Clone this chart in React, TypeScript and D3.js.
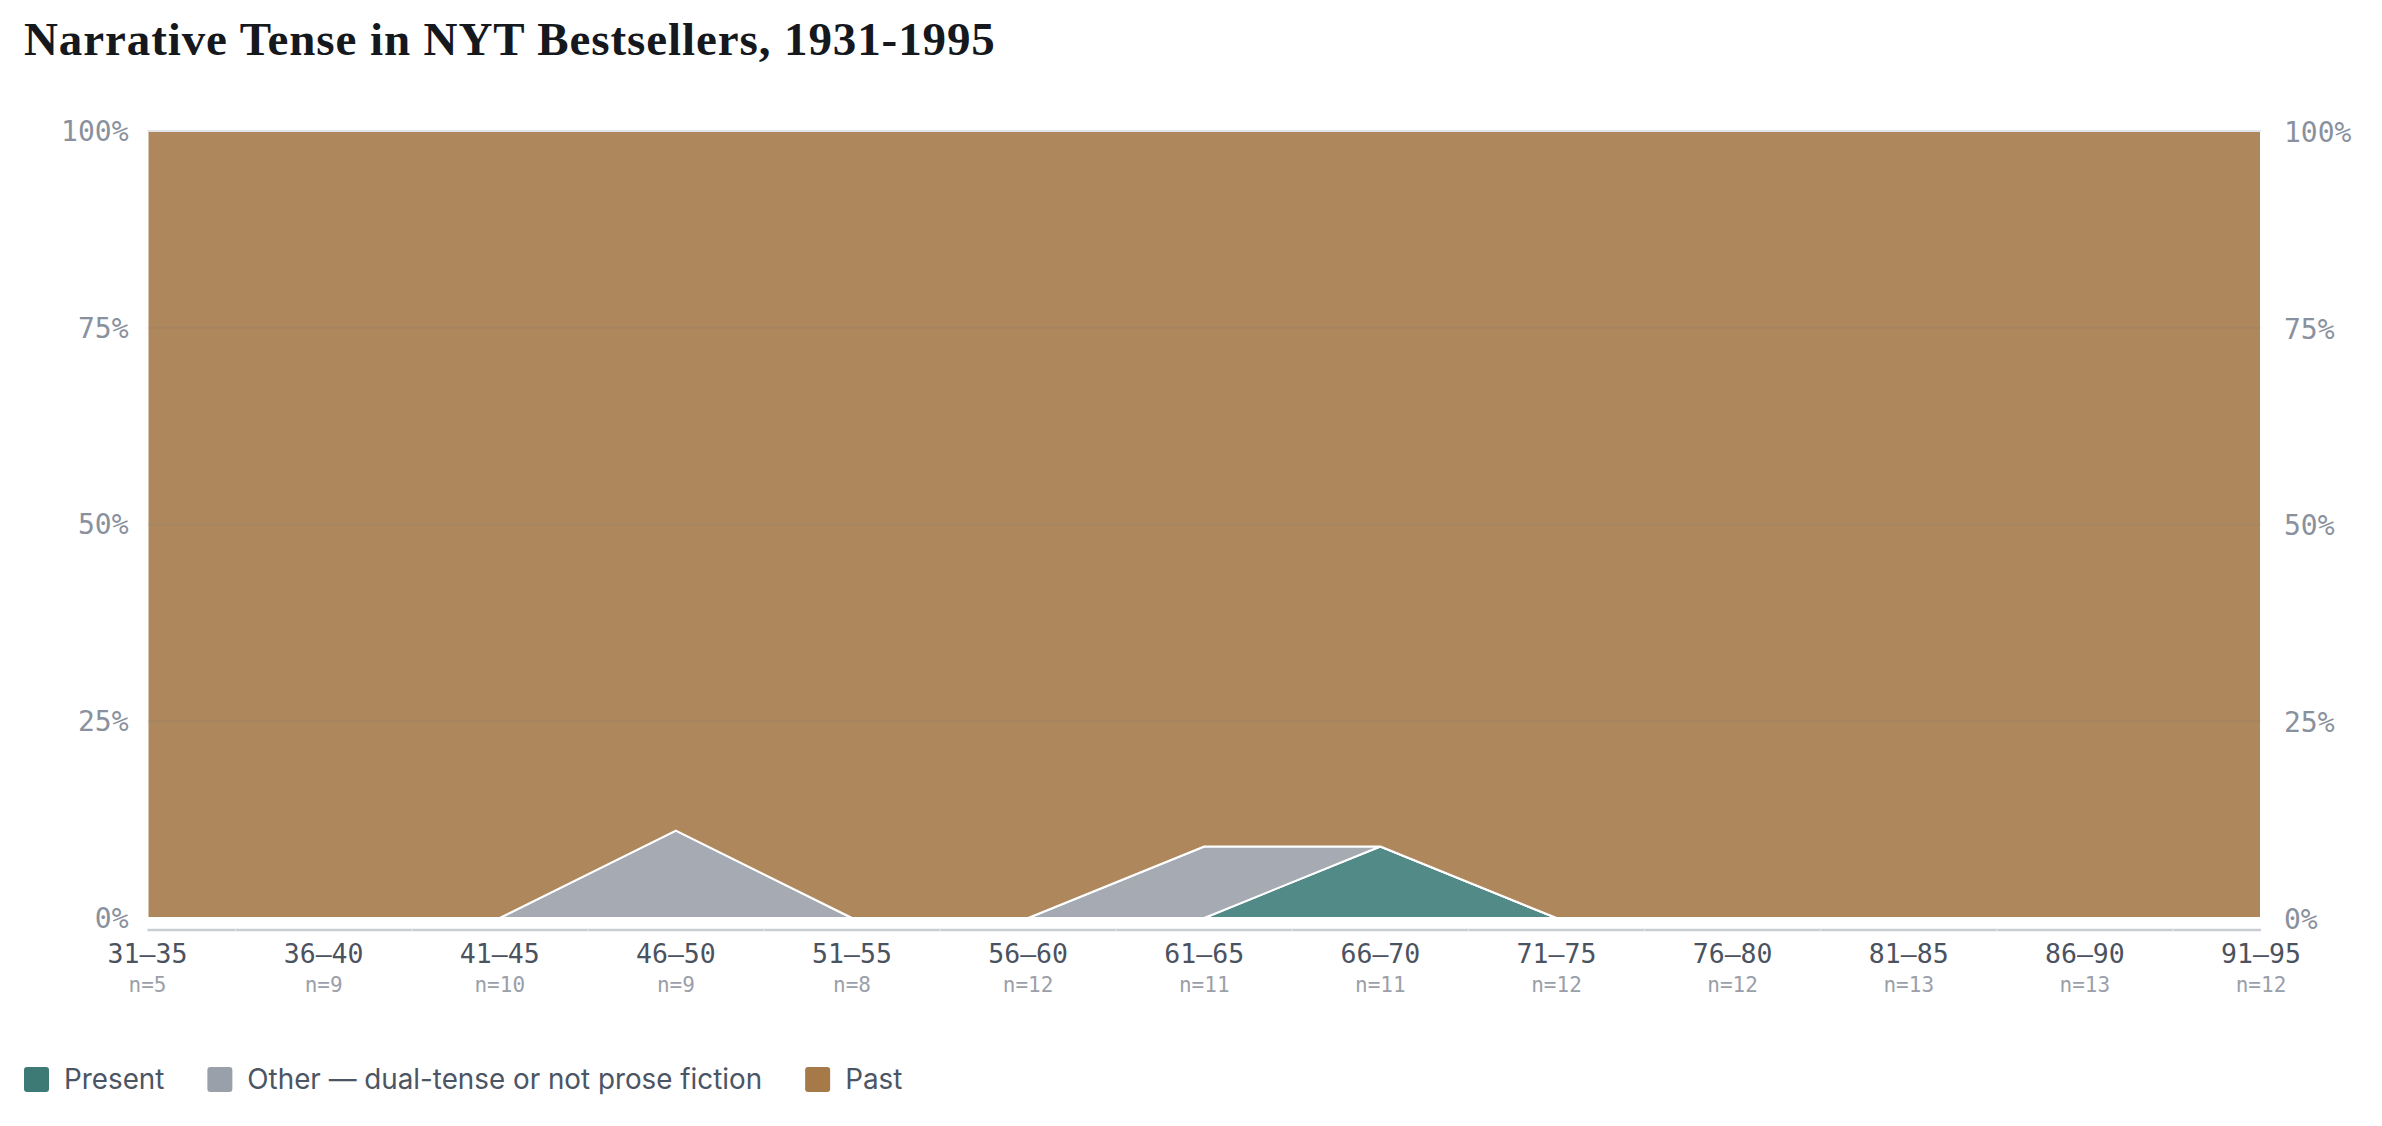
import { useEffect, useRef } from "react";
import * as d3 from "d3";

const W = 2382;
const H = 1126;

const periods = ["31–35", "36–40", "41–45", "46–50", "51–55", "56–60", "61–65", "66–70", "71–75", "76–80", "81–85", "86–90", "91–95"];
const totals = [5, 9, 10, 9, 8, 12, 11, 11, 12, 12, 13, 13, 12];
const presentCounts = [0, 0, 0, 0, 0, 0, 0, 1, 0, 0, 0, 0, 0];
const otherCounts = [0, 0, 0, 1, 0, 0, 1, 0, 0, 0, 0, 0, 0];

const yTicks = [0, 0.25, 0.5, 0.75, 1];

const seriesKeys = ["present", "other", "past"];
const seriesLabels: Record<string, string> = {
  present: "Present",
  other: "Other — dual-tense or not prose fiction",
  past: "Past",
};
const areaColors: Record<string, string> = {
  present: "#528a87",
  other: "#a6abb3",
  past: "#ae885c",
};
const swatchColors: Record<string, string> = {
  present: "#3d7a76",
  other: "#9aa0a9",
  past: "#a67a48",
};

const MONO = "'DejaVu Sans Mono', monospace";
const SANS = "Inter, 'Noto Sans', sans-serif";

export default function App() {
  const svgRef = useRef<SVGSVGElement>(null);

  useEffect(() => {
    document.body.style.margin = "0";
    const svg = d3.select(svgRef.current!);
    svg.selectAll("*").remove();

    const margin = { top: 131, right: 121, bottom: 208, left: 147.5 };
    const x = d3
      .scalePoint<string>()
      .domain(periods)
      .range([margin.left, W - margin.right]);
    const y = d3
      .scaleLinear()
      .domain([0, 1])
      .range([H - margin.bottom, margin.top]);

    const rows = periods.map((p, i) => ({
      period: p,
      present: presentCounts[i] / totals[i],
      other: otherCounts[i] / totals[i],
      past: (totals[i] - presentCounts[i] - otherCounts[i]) / totals[i],
    }));

    const stacked = d3.stack<(typeof rows)[0]>().keys(seriesKeys)(rows);

    // title
    svg
      .append("text")
      .attr("x", 24)
      .attr("y", 55)
      .attr("font-family", "'Liberation Serif', serif")
      .attr("font-weight", 700)
      .attr("font-size", 47)
      .attr("letter-spacing", 0.9)
      .attr("fill", "#15181d")
      .text("Narrative Tense in NYT Bestsellers, 1931-1995");

    // areas
    const area = d3
      .area<d3.SeriesPoint<(typeof rows)[0]>>()
      .x((d) => x(d.data.period)!)
      .y0((d) => y(d[0]))
      .y1((d) => y(d[1]));

    svg
      .append("g")
      .selectAll("path")
      .data(stacked)
      .join("path")
      .attr("d", (s) => area(s)!)
      .attr("fill", (s) => areaColors[s.key])
      .attr("stroke", "#fff")
      .attr("stroke-width", 2)
      .attr("stroke-linejoin", "round");

    // gridlines over the areas
    svg
      .append("g")
      .selectAll("line")
      .data(yTicks.filter((t) => t > 0))
      .join("line")
      .attr("x1", margin.left)
      .attr("x2", W - margin.right)
      .attr("y1", (d) => y(d))
      .attr("y2", (d) => y(d))
      .attr("stroke", "#64748b")
      .attr("stroke-opacity", (d) => (d === 1 ? 0.2 : 0.09))
      .attr("stroke-width", 2);

    // y labels, both sides
    const yl = svg.append("g").attr("font-family", MONO).attr("font-size", 28).attr("fill", "#8a919e");
    yl.selectAll("text.l")
      .data(yTicks)
      .join("text")
      .attr("class", "l")
      .attr("x", margin.left - 19)
      .attr("y", (d) => y(d))
      .attr("dy", "0.35em")
      .attr("text-anchor", "end")
      .text((d) => d3.format(".0%")(d));
    yl.selectAll("text.r")
      .data(yTicks)
      .join("text")
      .attr("class", "r")
      .attr("x", W - margin.right + 23)
      .attr("y", (d) => y(d) + 1)
      .attr("dy", "0.35em")
      .text((d) => d3.format(".0%")(d));

    // x axis line
    const axisY = y(0) + 12;
    svg
      .append("line")
      .attr("x1", margin.left)
      .attr("x2", W - margin.right)
      .attr("y1", axisY)
      .attr("y2", axisY)
      .attr("stroke", "#c9cdd3")
      .attr("stroke-width", 2.5);
    const step = x.step();
    svg
      .append("g")
      .selectAll("line")
      .data(periods.slice(0, -1))
      .join("line")
      .attr("x1", (d) => x(d)! + step / 2)
      .attr("x2", (d) => x(d)! + step / 2)
      .attr("y1", axisY - 1.5)
      .attr("y2", axisY + 1.5)
      .attr("stroke", "#e6e9ed")
      .attr("stroke-width", 1);

    // x labels
    const xl = svg.append("g").attr("font-family", MONO).attr("text-anchor", "middle");
    xl.selectAll("text.p")
      .data(periods)
      .join("text")
      .attr("class", "p")
      .attr("x", (d) => x(d)!)
      .attr("y", 963)
      .attr("font-size", 26.5)
      .attr("fill", "#4b5260")
      .text((d) => d);
    xl.selectAll("text.n")
      .data(periods)
      .join("text")
      .attr("class", "n")
      .attr("x", (d) => x(d)!)
      .attr("y", 992)
      .attr("font-size", 21)
      .attr("fill", "#9aa0aa")
      .text((d, i) => `n=${totals[i]}`);

    // legend
    const lg = svg.append("g").attr("transform", "translate(24,1067)");
    let cx = 0;
    for (const key of seriesKeys) {
      const item = lg.append("g").attr("transform", `translate(${cx},0)`);
      item
        .append("rect")
        .attr("width", 25)
        .attr("height", 25)
        .attr("rx", 3)
        .attr("fill", swatchColors[key]);
      const t = item
        .append("text")
        .attr("x", 40)
        .attr("y", 12.5)
        .attr("dy", "0.35em")
        .attr("font-family", SANS)
        .attr("font-size", 27.8)
        .attr("fill", "#4b5563")
        .text(seriesLabels[key]);
      const tw = (t.node() as SVGTextElement).getComputedTextLength();
      cx += 40 + tw + 43;
    }
  }, []);

  return <svg ref={svgRef} width={W} height={H} style={{ display: "block", background: "#fff" }} />;
}
